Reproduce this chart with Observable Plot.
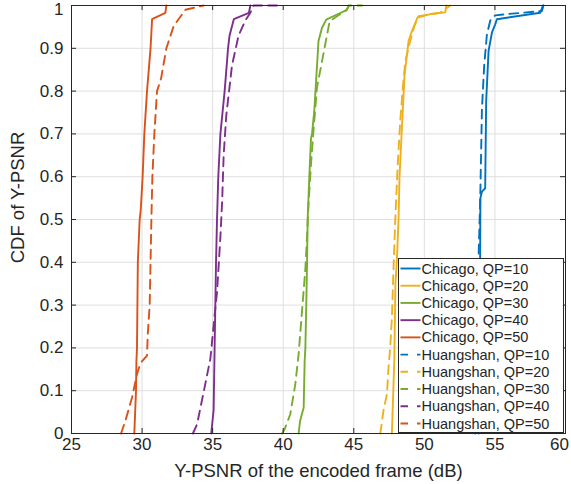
<!DOCTYPE html>
<html>
<head>
<meta charset="utf-8">
<script src="https://cdn.jsdelivr.net/npm/d3@7"></script>
<script src="https://cdn.jsdelivr.net/npm/@observablehq/plot@0.6"></script>
<style>
  html, body { margin: 0; padding: 0; background: #fff; }
  #chart { position: relative; width: 571px; height: 484px; }
  svg { font-family: "Liberation Sans", Arial, Helvetica, sans-serif; }
</style>
</head>
<body>
<div id="chart"></div>
<script>
// ---- data (x = Y-PSNR in dB, y = CDF) ----
const chicago10 = [[53.85,0],[53.95,0.38],[53.97,0.55],[54.08,0.565],[54.31,0.573],[54.38,0.777],[54.55,0.894],[54.79,0.937],[55.02,0.956],[55.14,0.968],[58.21,0.983],[58.4,1]];
const chicago20 = [[47.7,0],[47.87,0.17],[47.95,0.35],[48.06,0.41],[48.17,0.5],[48.24,0.6],[48.41,0.714],[48.6,0.839],[48.88,0.917],[49.12,0.94],[49.52,0.972],[50.42,0.98],[51.48,0.984],[51.55,1]];
const chicago30 = [[41.09,0],[41.2,0.03],[41.45,0.061],[41.52,0.17],[41.57,0.2],[41.64,0.31],[41.69,0.4],[41.73,0.5],[41.85,0.6],[41.97,0.69],[42.04,0.7],[42.2,0.753],[42.34,0.83],[42.5,0.917],[42.75,0.948],[43.05,0.967],[43.81,0.979],[44.52,0.99],[44.63,1]];
const chicago40 = [[34.9,0],[35.07,0.055],[35.14,0.2],[35.24,0.4],[35.31,0.5],[35.4,0.6],[35.55,0.7],[35.85,0.8],[36.02,0.87],[36.09,0.9],[36.2,0.93],[36.5,0.968],[37.57,0.983],[37.67,1]];
const chicago50 = [[29.45,0],[29.57,0.1],[29.6,0.17],[29.64,0.2],[29.7,0.4],[29.83,0.5],[29.9,0.52],[30.04,0.6],[30.16,0.7],[30.35,0.8],[30.6,0.9],[30.71,0.968],[31.65,0.983],[31.72,1]];
const huangshan10 = [[53.6,0],[53.78,0.38],[53.84,0.41],[53.96,0.55],[54.08,0.758],[54.24,0.86],[54.43,0.932],[54.67,0.965],[55.02,0.977],[55.85,0.98],[58.33,0.987],[58.44,1]];
const huangshan20 = [[46.88,0],[47.1,0.053],[47.35,0.092],[47.46,0.154],[47.58,0.2],[47.7,0.27],[47.82,0.39],[47.94,0.5],[48.1,0.62],[48.29,0.73],[48.48,0.81],[48.65,0.87],[49.0,0.917],[49.29,0.952],[49.59,0.975],[51.13,0.983],[51.84,1]];
const huangshan30 = [[39.92,0],[40.1,0.01],[40.5,0.045],[40.86,0.116],[41.09,0.185],[41.33,0.285],[41.57,0.385],[41.69,0.46],[41.8,0.54],[41.97,0.63],[42.15,0.71],[42.39,0.808],[42.75,0.87],[42.98,0.91],[43.29,0.963],[43.81,0.975],[44.4,0.987],[44.7,1],[45.6,1]];
const huangshan40 = [[33.6,0],[33.9,0.022],[34.48,0.116],[34.84,0.175],[35.12,0.27],[35.31,0.33],[35.55,0.46],[35.67,0.54],[35.78,0.65],[35.97,0.745],[36.13,0.79],[36.37,0.86],[36.84,0.93],[37.32,0.965],[37.67,0.983],[37.9,1],[39.56,1]];
const huangshan50 = [[28.51,0],[28.82,0.03],[29.29,0.084],[29.65,0.14],[29.9,0.165],[30.35,0.182],[30.4,0.23],[30.54,0.3],[30.66,0.5],[30.73,0.6],[30.87,0.7],[31.06,0.8],[31.35,0.83],[31.72,0.9],[32.24,0.952],[33.07,0.99],[34.36,1]];

const seriesNames = ["Chicago, QP=10","Chicago, QP=20","Chicago, QP=30","Chicago, QP=40","Chicago, QP=50",
  "Huangshan, QP=10","Huangshan, QP=20","Huangshan, QP=30","Huangshan, QP=40","Huangshan, QP=50"];
const seriesData = [chicago10, chicago20, chicago30, chicago40, chicago50,
  huangshan10, huangshan20, huangshan30, huangshan40, huangshan50];
const colors = ["#0072BD","#EDB120","#77AC30","#7E2F8E","#D95319"];

const xTicks = [25, 30, 35, 40, 45, 50, 55, 60];
const yTicks = [0, 0.1, 0.2, 0.3, 0.4, 0.5, 0.6, 0.7, 0.8, 0.9, 1];
const xLabel = "Y-PSNR of the encoded frame (dB)";
const yLabel = "CDF of Y-PSNR";

// ---- build table ----
const rows = [];
seriesData.forEach((pts, i) => {
  pts.forEach(([x, y]) => rows.push({series: seriesNames[i], idx: i, x, y}));
});

const axisColor = "#262626";
const W = 571, H = 484;
const mT = 5, mB = 51, mL = 71, mR = 6;
const frameH = H - mT - mB, frameW = W - mL - mR;
const tickLen = 5;
const fmt = d => String(d);
const xMax = xTicks[xTicks.length - 1], yMax = yTicks[yTicks.length - 1];

const lineMarks = seriesData.map((pts, i) => Plot.line(rows.filter(r => r.idx === i), {
  x: "x", y: "y",
  stroke: colors[i % 5],
  strokeWidth: 1.9,
  strokeDasharray: i >= 5 ? "9,6" : null,
  strokeLinejoin: "round"
}));

const plot = Plot.plot({
  width: W, height: H,
  marginTop: mT, marginBottom: mB, marginLeft: mL, marginRight: mR,
  style: {fontFamily: "'Liberation Sans', Arial, Helvetica, sans-serif", background: "#fff", overflow: "visible"},
  x: {domain: [25, 60], ticks: xTicks},
  y: {domain: [0, 1], ticks: yTicks},
  marks: [
    Plot.gridX(xTicks, {stroke: "#dfdfdf", strokeOpacity: 1, strokeWidth: 1}),
    Plot.gridY(yTicks, {stroke: "#dfdfdf", strokeOpacity: 1, strokeWidth: 1}),
    ...lineMarks,
    // inward tick marks on all four sides
    Plot.tickX(xTicks, {x: d => d, insetTop: frameH - tickLen, stroke: axisColor}),
    Plot.tickX(xTicks, {x: d => d, insetBottom: frameH - tickLen, stroke: axisColor}),
    Plot.tickY(yTicks, {y: d => d, insetRight: frameW - tickLen, stroke: axisColor}),
    Plot.tickY(yTicks, {y: d => d, insetLeft: frameW - tickLen, stroke: axisColor}),
    Plot.frame({stroke: axisColor, strokeWidth: 1}),
    Plot.axisX(xTicks.filter(d => d !== xMax), {tickSize: 0, tickPadding: 4, fontSize: 17, label: null, color: axisColor, tickFormat: fmt}),
    Plot.axisX([xMax], {tickSize: 0, tickPadding: 4, fontSize: 17, label: null, color: axisColor, tickFormat: fmt, dx: -6}),
    Plot.axisY(yTicks.filter(d => d !== yMax), {tickSize: 0, tickPadding: 8, fontSize: 17, label: null, color: axisColor, tickFormat: fmt}),
    Plot.axisY([yMax], {tickSize: 0, tickPadding: 8, fontSize: 17, label: null, color: axisColor, tickFormat: fmt, dy: 4}),
    Plot.text([xLabel], {text: d => d, frameAnchor: "bottom", textAnchor: "middle", dy: 38, fontSize: 18.5, lineAnchor: "middle", fill: axisColor}),
    Plot.text([yLabel], {text: d => d, frameAnchor: "left", textAnchor: "middle", rotate: -90, dx: -53, dy: -22, fontSize: 18.5, lineAnchor: "middle", fill: axisColor})
  ]
});

document.getElementById("chart").appendChild(plot);

// ---- legend (inside the axes, bottom-right) ----
const svg = d3.select(plot);
const lg = svg.append("g").attr("transform", "translate(398.5,258.5)").attr("text-anchor", "start");
const lgW = 165, lgH = 174;
lg.append("rect").attr("width", lgW).attr("height", lgH)
  .attr("fill", "#fff").attr("stroke", axisColor).attr("stroke-width", 1);
seriesNames.forEach((name, i) => {
  const cy = 10 + i * 17.22;
  lg.append("line")
    .attr("x1", 2).attr("x2", 22).attr("y1", cy).attr("y2", cy)
    .attr("stroke", colors[i % 5]).attr("stroke-width", 1.9)
    .attr("stroke-dasharray", i >= 5 ? "7.5,9" : null);
  lg.append("text")
    .attr("x", 23).attr("y", cy).attr("dy", "0.35em")
    .attr("text-anchor", "start")
    .attr("font-size", 14.5).attr("fill", axisColor)
    .text(name);
});
</script>
</body>
</html>
